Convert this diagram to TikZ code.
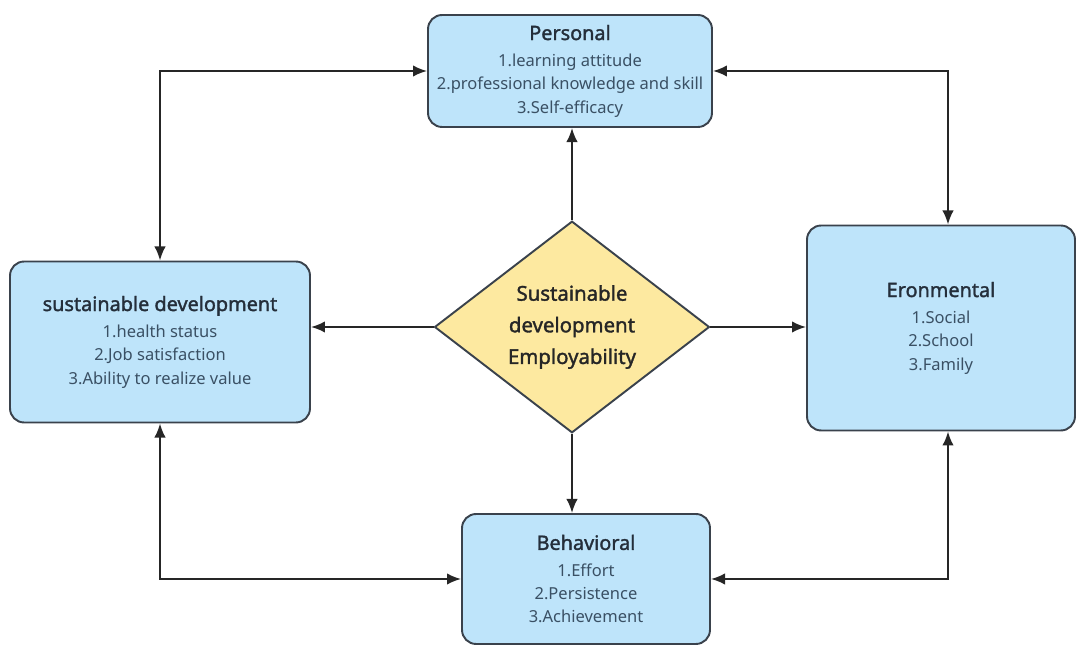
\documentclass[tikz,border=0pt]{standalone}
\usepackage{fontspec}
\setmainfont{Noto Sans}
\newfontfamily\titlefont{Noto Sans}[FakeBold=1.6]
\usepackage{xcolor}
\usetikzlibrary{shapes.geometric,arrows.meta}
\definecolor{boxblue}{RGB}{190,228,250}
\definecolor{boxline}{RGB}{58,66,76}
\definecolor{coreyellow}{RGB}{253,233,160}
\definecolor{titlegray}{RGB}{36,46,58}
\definecolor{itemgray}{RGB}{58,80,100}
\newcommand{\boxtitle}[1]{{\titlefont\fontsize{11.3}{16}\selectfont\color{titlegray}#1}}
\newcommand{\boxitem}[1]{{\color{itemgray}#1}}

\begin{document}
\begin{tikzpicture}[x=0.02cm, y=-0.02cm,
  factor/.style={rectangle, rounded corners=8pt, draw=boxline, fill=boxblue, line width=1.1pt, align=center, inner sep=2pt, font=\fontsize{9.4}{13.2}\selectfont},
  core/.style={diamond, draw=boxline, fill=coreyellow, line width=1.1pt, align=center, minimum width=5.5cm, minimum height=3.95cm, inner sep=0pt, font=\titlefont\fontsize{11.6}{18}\selectfont\color{black!85}},
  arrow/.style={-{Latex[length=8pt,width=6.5pt]}, line width=1.1pt, draw=black!85},
  dblarrow/.style={{Latex[length=8pt,width=6.5pt]}-{Latex[length=8pt,width=6.5pt]}, line width=1.1pt, draw=black!85}
]
\useasboundingbox (0,0) rectangle (1083,648);

\node[core] (emp) at (572,327) {Sustainable\\development\\Employability};

\node[factor, minimum width=5.68cm, minimum height=2.24cm] (pers) at (570,71)
  {\boxtitle{Personal}\\[2pt]\boxitem{1.learning attitude}\\\boxitem{2.professional knowledge and skill}\\\boxitem{3.Self-efficacy}};
\node[factor, minimum width=6.0cm, minimum height=3.22cm] (sus) at (160,342)
  {\boxtitle{sustainable development}\\[2pt]\boxitem{1.health status}\\\boxitem{2.Job satisfaction}\\\boxitem{3.Ability to realize value}};
\node[factor, minimum width=5.36cm, minimum height=4.1cm] (env) at (941,328)
  {\boxtitle{Eronmental}\\[2pt]\boxitem{1.Social}\\\boxitem{2.School}\\\boxitem{3.Family}};
\node[factor, minimum width=4.96cm, minimum height=2.6cm] (beh) at (586,579)
  {\boxtitle{Behavioral}\\[2pt]\boxitem{1.Effort}\\\boxitem{2.Persistence}\\\boxitem{3.Achievement}};

\draw[arrow] (emp.north) -- (emp.north |- pers.south);
\draw[arrow] (emp.west) -- (sus.east |- emp.west);
\draw[arrow] (emp.east) -- (env.west |- emp.east);
\draw[arrow] (emp.south) -- (emp.south |- beh.north);

\draw[dblarrow] (sus.north) |- (pers.west);
\draw[dblarrow] (pers.east) -| ([xshift=0.14cm]env.north);
\draw[dblarrow] (sus.south) |- (beh.west);
\draw[dblarrow] (beh.east) -| ([xshift=0.14cm]env.south);
\end{tikzpicture}
\end{document}
